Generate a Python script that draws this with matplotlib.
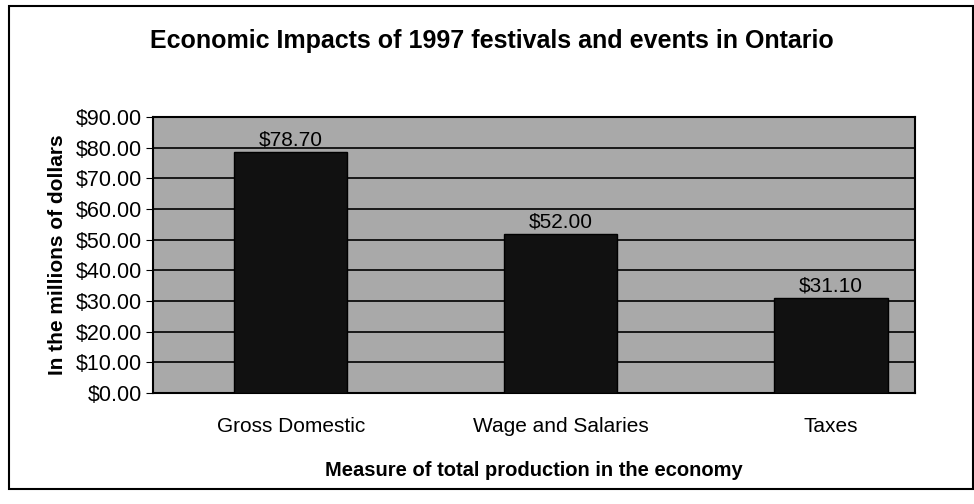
import matplotlib
matplotlib.use('Agg')
import matplotlib.pyplot as plt
from matplotlib.patches import Rectangle

categories = ['Gross Domestic', 'Wage and Salaries', 'Taxes']
values = [78.70, 52.00, 31.10]
bar_labels = ['$78.70', '$52.00', '$31.10']
y_ticks = [0, 10, 20, 30, 40, 50, 60, 70, 80, 90]

plt.rcParams['font.family'] = ['Liberation Sans', 'DejaVu Sans']

fig = plt.figure(figsize=(9.74, 5.04), dpi=100)
ax = fig.add_axes([0.157, 0.220, 0.782, 0.548])

ax.set_facecolor('#a9a9a9')
x = list(range(len(categories)))
ax.bar(x, values, width=0.42, color='#111111', edgecolor='black', zorder=3)

for xi, v, lab in zip(x, values, bar_labels):
    ax.text(xi, v + 0.8, lab, ha='center', va='bottom', fontsize=15,
            color='black', zorder=4)

ax.set_xlim(-0.51, 2.31)
ax.set_ylim(0, 90)
ax.set_yticks(y_ticks)
ax.set_yticklabels([f'${t:.2f}' for t in y_ticks], fontsize=15.5)
ax.set_xticks(x)
ax.set_xticklabels(categories, fontsize=15)
ax.tick_params(axis='x', length=0, pad=17)
ax.tick_params(axis='y', length=5, direction='out', color='black', pad=3)
ax.yaxis.grid(True, color='black', linewidth=1.2, zorder=1)
ax.set_axisbelow(True)
for s in ax.spines.values():
    s.set_color('black')
    s.set_linewidth(1.5)

ax.set_ylabel('In the millions of dollars', fontsize=15, fontweight='bold', labelpad=6)
ax.set_xlabel('Measure of total production in the economy', fontsize=14.5,
              fontweight='bold', labelpad=18)

fig.text(0.505, 0.918, 'Economic Impacts of 1997 festivals and events in Ontario',
         ha='center', va='center', fontsize=18, fontweight='bold')

# outer frame of the chart
fig.patches.append(Rectangle((0.009, 0.03), 0.99, 0.958, transform=fig.transFigure,
                             fill=False, edgecolor='black', linewidth=1.5))

fig.savefig('out.png', dpi=100)
